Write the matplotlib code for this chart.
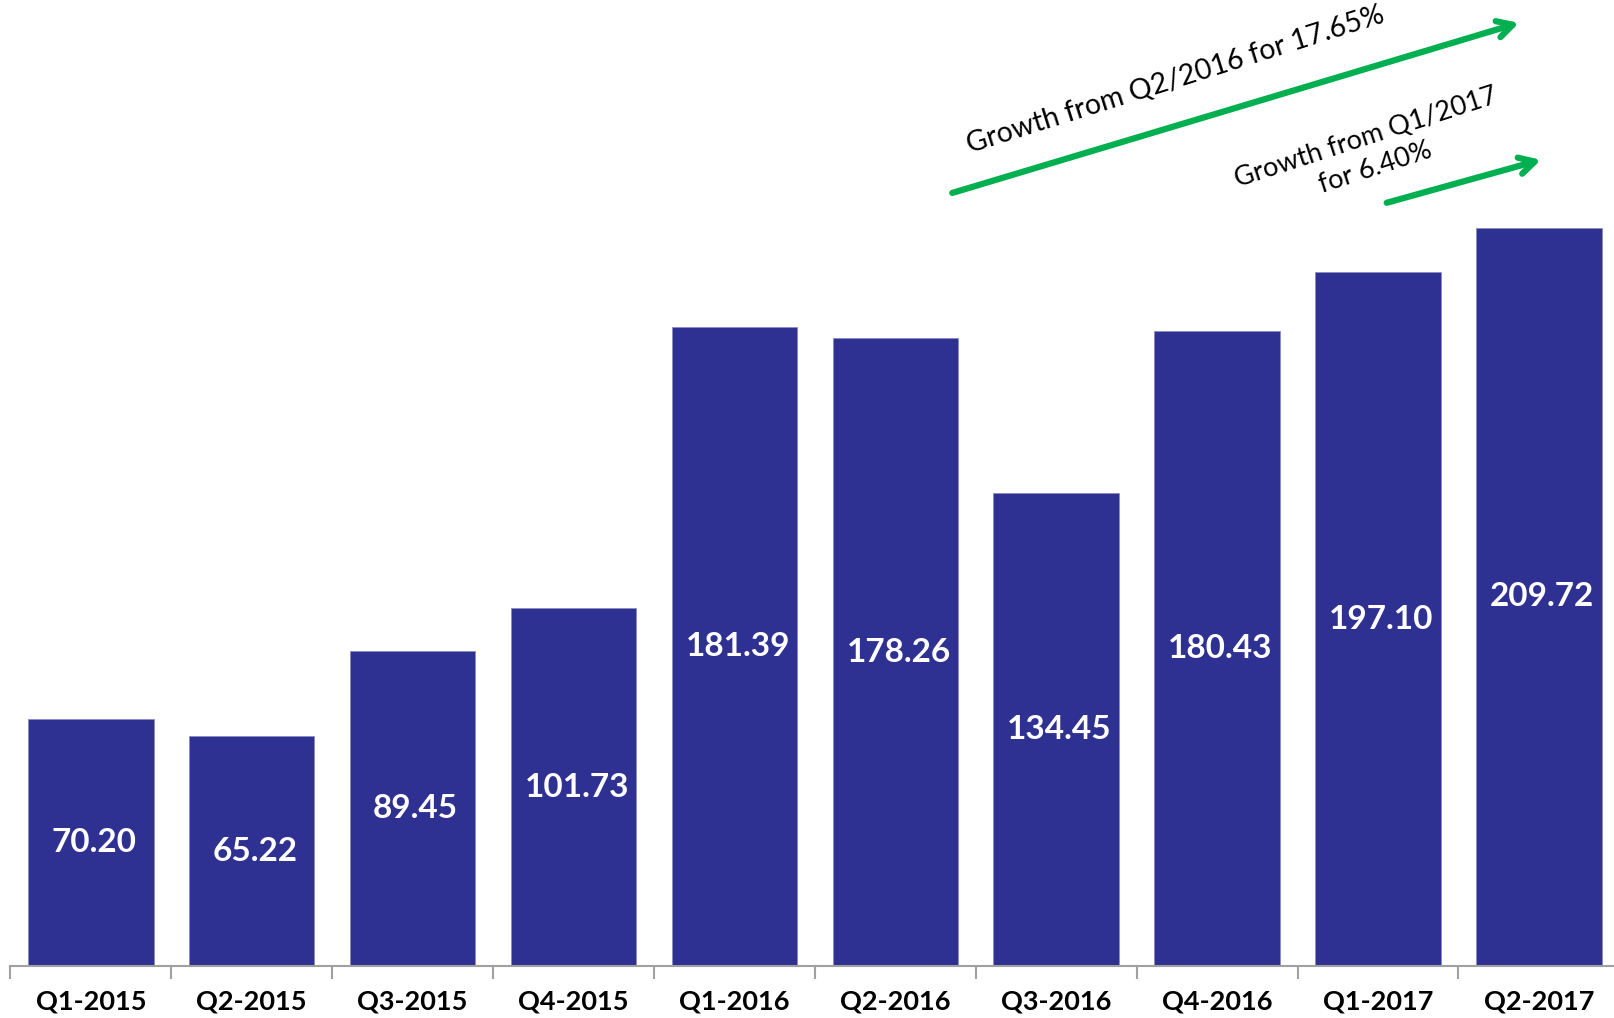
#!/usr/bin/env python3
"""Quarterly bar chart with growth arrows."""

import matplotlib
matplotlib.use("Agg")
import matplotlib.pyplot as plt
import numpy as np

QUARTERS = ["Q1-2015", "Q2-2015", "Q3-2015", "Q4-2015", "Q1-2016",
            "Q2-2016", "Q3-2016", "Q4-2016", "Q1-2017", "Q2-2017"]
VALUES = [70.20, 65.22, 89.45, 101.73, 181.39, 178.26, 134.45, 180.43, 197.10, 209.72]
GROWTH_TEXTS = ["Growth from Q2/2016 for 17.65%", "Growth from Q1/2017\nfor 6.40%"]

BAR_COLOR = "#2E3092"
ARROW_COLOR = "#00B050"
FONT = "Lato"


def main() -> None:
    plt.rcParams["font.family"] = [FONT, "DejaVu Sans"]
    fig = plt.figure(figsize=(16.15, 10.18), dpi=100)
    ax = fig.add_axes([0.0064, 0.051, 0.9963, 0.949])

    x = np.arange(len(QUARTERS))
    bars = ax.bar(x, VALUES, width=0.78, color=BAR_COLOR, edgecolor="#8A8CC4", linewidth=0.6)
    for bar, val in zip(bars, VALUES):
        ax.text(bar.get_x() + bar.get_width() / 2 + 0.02, val / 2, f"{val:.2f}",
                ha="center", va="center", color="white", fontsize=24, fontweight="bold")

    ax.set_xlim(-0.5, len(QUARTERS) - 0.5)
    ax.set_ylim(0, 274.4)
    ax.set_xticks(x)
    ax.set_xticklabels(QUARTERS, fontsize=19.5, fontweight="bold")
    ax.set_xticks(np.arange(-0.5, len(QUARTERS)), minor=True)
    ax.tick_params(axis="x", which="major", length=0, pad=17)
    ax.tick_params(axis="x", which="minor", length=9, width=1.5, color="#A0A0A0")
    ax.set_yticks([])
    for side in ("top", "left", "right"):
        ax.spines[side].set_visible(False)
    ax.spines["bottom"].set_color("#A0A0A0")
    ax.spines["bottom"].set_linewidth(1.5)

    arrow_style = dict(arrowstyle="->,head_length=1.1,head_width=0.6", color=ARROW_COLOR,
                       lw=4.5, shrinkA=0, shrinkB=0)
    ax.annotate("", xy=(8.876, 267.9), xytext=(5.354, 219.6), arrowprops=arrow_style,
                annotation_clip=False)
    ax.annotate("", xy=(9.013, 229.0), xytext=(8.054, 216.8), arrowprops=arrow_style,
                annotation_clip=False)

    ax.text(6.741, 251.7, GROWTH_TEXTS[0], rotation=17.5, rotation_mode="anchor",
            ha="center", va="center", fontsize=20.5)
    ax.text(7.955, 231.0, GROWTH_TEXTS[1], rotation=18, rotation_mode="anchor",
            ha="center", va="center", multialignment="center", fontsize=19.5,
            linespacing=1.3)

    fig.savefig("out.png", dpi=100)
    plt.close(fig)


if __name__ == "__main__":
    main()
